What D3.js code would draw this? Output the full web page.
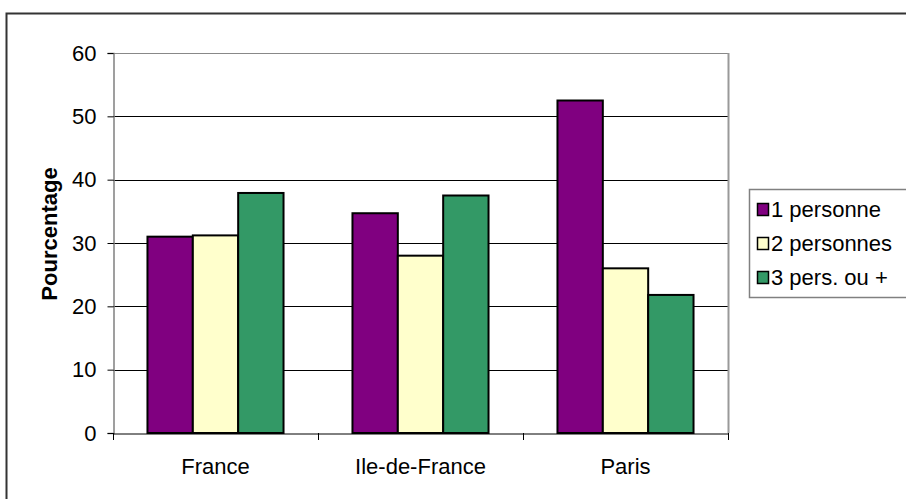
<!DOCTYPE html>
<html>
<head>
<meta charset="utf-8">
<script src="https://cdn.jsdelivr.net/npm/d3@7"></script>
<style>
  body { margin: 0; background: #fff; }
  text { font-family: "Liberation Sans", Arial, sans-serif; fill: #000; }
</style>
</head>
<body>
<div id="chart"></div>
<script>
// data
const categories = ["France", "Ile-de-France", "Paris"];
const seriesNames = ["1 personne", "2 personnes", "3 pers. ou +"];
const onePerson = [31.0, 34.7, 52.5];
const twoPersons = [31.2, 28.0, 26.0];
const threePlus = [37.9, 37.5, 21.8];
const yTicks = [0, 10, 20, 30, 40, 50, 60];

const colors = ["#800080", "#FFFFCC", "#339966"];
const seriesValues = [onePerson, twoPersons, threePlus];

const width = 906, height = 499;
const margin = {top: 53, left: 113, right: 178, bottom: 66};
const fontSize = 22;

const svg = d3.select("#chart").append("svg")
    .attr("width", width)
    .attr("height", height);

// outer chart frame
svg.append("rect")
    .attr("x", 6.5).attr("y", 13.5)
    .attr("width", 910).attr("height", 500)
    .attr("fill", "none")
    .attr("stroke", "#333")
    .attr("stroke-width", 2);

const x = d3.scaleBand()
    .domain(categories)
    .range([margin.left, width - margin.right]);

const xInner = d3.scaleBand()
    .domain(d3.range(seriesNames.length))
    .range([0, x.bandwidth()])
    .paddingOuter(0.76)
    .paddingInner(0);

const y = d3.scaleLinear()
    .domain([0, 60])
    .range([height - margin.bottom, margin.top]);

// gridlines
svg.append("g")
    .selectAll("line")
    .data(yTicks.filter(d => d > 0))
    .join("line")
    .attr("x1", margin.left)
    .attr("x2", width - margin.right)
    .attr("y1", d => Math.round(y(d)) + 0.5)
    .attr("y2", d => Math.round(y(d)) + 0.5)
    .attr("stroke", d => d === 60 ? "#888" : "#000")
    .attr("stroke-width", 1);

// right edge of plot area
svg.append("line")
    .attr("x1", width - margin.right + 0.5)
    .attr("x2", width - margin.right + 0.5)
    .attr("y1", margin.top)
    .attr("y2", y(0))
    .attr("stroke", "#999")
    .attr("stroke-width", 2);

// bars
const groups = svg.append("g")
    .selectAll("g")
    .data(categories)
    .join("g")
    .attr("transform", d => `translate(${x(d)},0)`);

groups.selectAll("rect")
    .data((c, ci) => seriesValues.map((vals, si) => ({s: si, v: vals[ci]})))
    .join("rect")
    .attr("x", d => xInner(d.s))
    .attr("y", d => y(d.v))
    .attr("width", xInner.bandwidth())
    .attr("height", d => y(0) - y(d.v))
    .attr("fill", d => colors[d.s])
    .attr("stroke", "#000")
    .attr("stroke-width", 2);

// y axis
const yAxis = d3.axisLeft(y)
    .tickValues(yTicks)
    .tickSize(6)
    .tickPadding(11);

const gy = svg.append("g")
    .attr("transform", `translate(${margin.left + 0.5},0)`)
    .call(yAxis);
gy.select(".domain").attr("stroke", "#808080").attr("stroke-width", 1.5);
gy.selectAll(".tick line").attr("stroke", "#000");
gy.selectAll(".tick text")
    .attr("font-size", fontSize)
    .attr("fill", "#000")
    .style("font-family", "'Liberation Sans', Arial, sans-serif");

// x axis
const xAxis = d3.axisBottom(x).tickSize(0).tickPadding(0);
const gx = svg.append("g")
    .attr("transform", `translate(0,${y(0) + 0.5})`)
    .call(xAxis);
gx.select(".domain").attr("stroke", "#000");
gx.selectAll(".tick text")
    .attr("y", 40)
    .attr("dy", null)
    .attr("font-size", fontSize)
    .attr("fill", "#000")
    .style("font-family", "'Liberation Sans', Arial, sans-serif");

// category separators below axis
svg.append("g")
    .selectAll("line")
    .data(categories.concat(["end"]))
    .join("line")
    .attr("x1", d => (d === "end" ? x.range()[1] : x(d)) + 0.5)
    .attr("x2", d => (d === "end" ? x.range()[1] : x(d)) + 0.5)
    .attr("y1", y(0))
    .attr("y2", y(0) + 7)
    .attr("stroke", "#000");

// y axis title
svg.append("text")
    .attr("transform", `translate(57,234) rotate(-90)`)
    .attr("text-anchor", "middle")
    .attr("font-size", fontSize)
    .attr("font-weight", "bold")
    .text("Pourcentage");

// legend
const legend = svg.append("g");
legend.append("rect")
    .attr("x", 749.5).attr("y", 189.5)
    .attr("width", 170).attr("height", 108)
    .attr("fill", "#fff")
    .attr("stroke", "#808080")
    .attr("stroke-width", 1.5);

const items = legend.selectAll("g")
    .data(seriesNames)
    .join("g")
    .attr("transform", (d, i) => `translate(757,${217 + i * 34})`);

items.append("rect")
    .attr("x", 0.5).attr("y", -13.5)
    .attr("width", 11).attr("height", 12)
    .attr("fill", (d, i) => colors[i])
    .attr("stroke", "#000")
    .attr("stroke-width", 1.5);

items.append("text")
    .attr("x", 14)
    .attr("y", 0)
    .attr("font-size", fontSize)
    .text(d => d);
</script>
</body>
</html>
